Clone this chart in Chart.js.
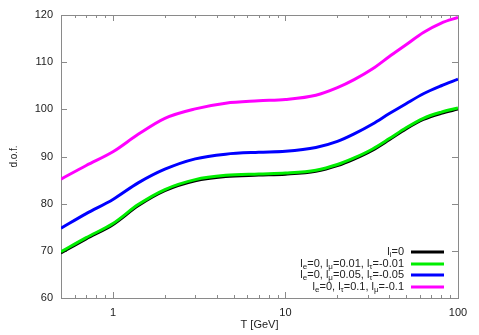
<!DOCTYPE html>
<html>
<head>
<meta charset="utf-8">
<script src="https://cdn.jsdelivr.net/npm/chart.js@4.4.0/dist/chart.umd.min.js"></script>
<style>
  html, body { margin: 0; padding: 0; background: #fff; }
</style>
</head>
<body>
<canvas id="dof" width="479" height="335"></canvas>
<script>
// temperatures in GeV (log axis)
const temps = [0.5, 0.7, 1, 1.4, 2, 3, 4.5, 7, 10, 15, 20, 25, 32, 40, 50, 63, 80, 100];

// effective degrees of freedom for each lepton asymmetry choice
const dofZero  = [69.5, 72.5, 75.5, 79.5, 82.7, 84.8, 85.7, 86.0, 86.2, 86.8, 88.0, 89.4, 91.3, 93.5, 95.8, 97.8, 99.1, 100.0];
const dofSmall = [69.8, 72.8, 75.8, 79.8, 83.0, 85.1, 86.0, 86.3, 86.5, 87.1, 88.3, 89.7, 91.6, 93.8, 96.1, 98.1, 99.4, 100.3];
const dofMid   = [74.8, 77.9, 80.9, 84.4, 87.3, 89.5, 90.5, 90.9, 91.1, 91.9, 93.2, 94.8, 96.9, 99.1, 101.2, 103.3, 105.0, 106.4];
const dofLarge = [85.2, 88.1, 91.0, 94.7, 98.1, 100.1, 101.3, 101.8, 102.1, 103.0, 104.6, 106.3, 108.6, 111.2, 113.7, 116.3, 118.3, 119.5];

const seriesLabels = [
  "l_{i}=0",
  "l_{e}=0, l_{\u03bc}=0.01, l_{\u03c4}=-0.01",
  "l_{e}=0, l_{\u03bc}=0.05, l_{\u03c4}=-0.05",
  "l_{e}=0, l_{\u03c4}=0.1, l_{\u03bc}=-0.1"
];
const seriesValues = [dofZero, dofSmall, dofMid, dofLarge];
const seriesColors = ["#000000", "#00ee00", "#0000ff", "#ff00ff"];

const xTickValues = [1, 10, 100];
const xMinorValues = [0.5, 0.6, 0.7, 0.8, 0.9, 2, 3, 4, 5, 6, 7, 8, 9, 20, 30, 40, 50, 60, 70, 80, 90];

const FONT = "'Liberation Sans', Arial, sans-serif";
const TEXT = "#222";
const FRAME = "#8a8a8a";

// gnuplot style frame: box with ticks pointing inwards on all sides
const framePlugin = {
  id: "frame",
  beforeDatasetsDraw(chart) {
    const { ctx, chartArea: a, scales } = chart;
    ctx.save();
    ctx.strokeStyle = FRAME;
    ctx.lineWidth = 1;
    ctx.strokeRect(a.left + 0.5, a.top + 0.5, a.right - a.left, a.bottom - a.top);
    ctx.beginPath();
    const xTick = (v, len) => {
      const px = Math.round(scales.x.getPixelForValue(v)) + 0.5;
      ctx.moveTo(px, a.bottom); ctx.lineTo(px, a.bottom - len);
      ctx.moveTo(px, a.top); ctx.lineTo(px, a.top + len);
    };
    xTickValues.forEach(v => xTick(v, 6));
    xMinorValues.forEach(v => xTick(v, 3));
    for (let v = 60; v <= 120; v += 10) {
      const py = Math.round(scales.y.getPixelForValue(v)) + 0.5;
      ctx.moveTo(a.left, py); ctx.lineTo(a.left + 6, py);
      ctx.moveTo(a.right, py); ctx.lineTo(a.right - 6, py);
    }
    ctx.stroke();
    ctx.restore();
  }
};

function splitLabel(label) {
  const parts = [];
  const re = /_\{([^}]*)\}/g;
  let last = 0, m;
  while ((m = re.exec(label)) !== null) {
    if (m.index > last) parts.push({ text: label.slice(last, m.index), sub: false });
    parts.push({ text: m[1], sub: true });
    last = re.lastIndex;
  }
  if (last < label.length) parts.push({ text: label.slice(last), sub: false });
  return parts;
}

// legend inside the plot, bottom right, with subscripts
const legendPlugin = {
  id: "keyBox",
  afterDraw(chart) {
    const { ctx } = chart;
    ctx.save();
    ctx.textBaseline = "middle";
    chart.data.datasets.forEach((ds, i) => {
      const y = Math.round(252 + i * 11.7);
      const parts = splitLabel(seriesLabels[i]);
      let total = 0;
      parts.forEach(p => {
        ctx.font = (p.sub ? "8px " : "11px ") + FONT;
        p.w = ctx.measureText(p.text).width;
        total += p.w;
      });
      let x = 404 - total;
      ctx.fillStyle = TEXT;
      parts.forEach(p => {
        ctx.font = (p.sub ? "8px " : "11px ") + FONT;
        ctx.fillText(p.text, x, p.sub ? y + 3 : y);
        x += p.w;
      });
      ctx.strokeStyle = ds.borderColor;
      ctx.lineWidth = 3;
      ctx.beginPath();
      ctx.moveTo(411, y);
      ctx.lineTo(444, y);
      ctx.stroke();
    });
    ctx.restore();
  }
};

new Chart(document.getElementById("dof"), {
  type: "scatter",
  data: {
    datasets: seriesValues.map((vals, i) => ({
      label: seriesLabels[i],
      data: temps.map((t, j) => ({ x: t, y: vals[j] })),
      showLine: true,
      borderColor: seriesColors[i],
      backgroundColor: seriesColors[i],
      borderWidth: i === 0 ? 2.5 : 3,
      pointRadius: 0,
      cubicInterpolationMode: "monotone",
      order: 4 - i
    }))
  },
  options: {
    responsive: false,
    animation: false,
    layout: { padding: { top: 15, right: 21, left: 0, bottom: 0 } },
    plugins: { legend: { display: false }, tooltip: { enabled: false } },
    scales: {
      x: {
        type: "logarithmic",
        min: 0.5,
        max: 100,
        afterBuildTicks: s => { s.ticks = xTickValues.map(v => ({ value: v })); },
        afterFit: s => { s.height = 37; },
        grid: { display: false, drawTicks: false },
        border: { display: false },
        ticks: {
          autoSkip: false,
          maxRotation: 0,
          padding: 8,
          color: TEXT,
          font: { family: FONT, size: 11 },
          callback: v => String(v)
        },
        title: {
          display: true,
          text: "T [GeV]",
          color: TEXT,
          font: { family: FONT, size: 11 },
          padding: { top: 0, bottom: 3 }
        }
      },
      y: {
        min: 60,
        max: 120,
        afterFit: s => { s.width = 61; },
        grid: { display: false, drawTicks: false },
        border: { display: false },
        ticks: {
          stepSize: 10,
          padding: 8,
          color: TEXT,
          font: { family: FONT, size: 11 }
        },
        title: {
          display: true,
          text: "d.o.f.",
          color: TEXT,
          font: { family: FONT, size: 10 },
          padding: { top: 8, bottom: 0 }
        }
      }
    }
  },
  plugins: [framePlugin, legendPlugin]
});
</script>
</body>
</html>
